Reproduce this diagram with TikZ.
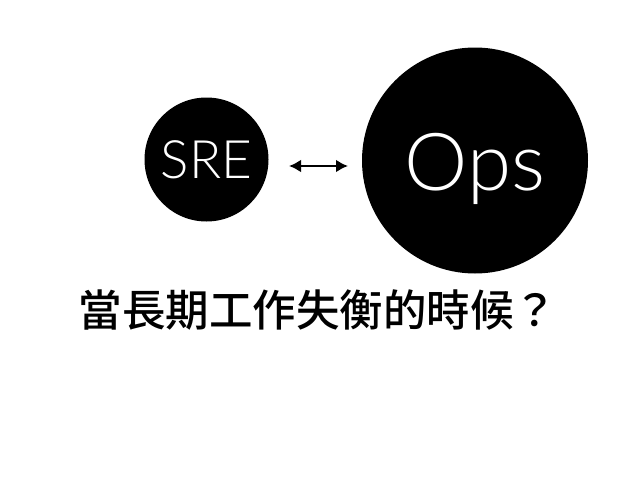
\documentclass[tikz,border=0pt]{standalone}
\usepackage{fontspec}
\setmainfont{Lato Light}
\newfontfamily\cjkfont{Noto Sans CJK TC Medium}
\usetikzlibrary{arrows.meta}
\begin{document}
\begin{tikzpicture}[x=1pt,y=-1pt,
  bubble/.style={circle,fill=black,text=white,inner sep=0pt},
  link/.style={line width=2.6pt,{Latex[length=12pt,width=13pt]}-{Latex[length=12pt,width=13pt]}}]
\useasboundingbox (0,0) rectangle (638,479);
\node[bubble,minimum size=124pt,font=\fontsize{53}{60}\selectfont] (sre) at (206.5,159.5) {SRE};
\node[bubble,minimum size=226pt,text depth=0pt,font=\fontsize{80}{90}\selectfont] (ops) at (475,160.5) {\raisebox{-3pt}{Ops}};
\coordinate (a) at (289,166);
\coordinate (b) at (348,166);
\draw[link] (a) -- (b);
\node[font=\cjkfont\fontsize{43.5}{50}\selectfont,inner sep=0pt] (q) at (318,310) {當長期工作失衡的時候？};
\end{tikzpicture}
\end{document}
